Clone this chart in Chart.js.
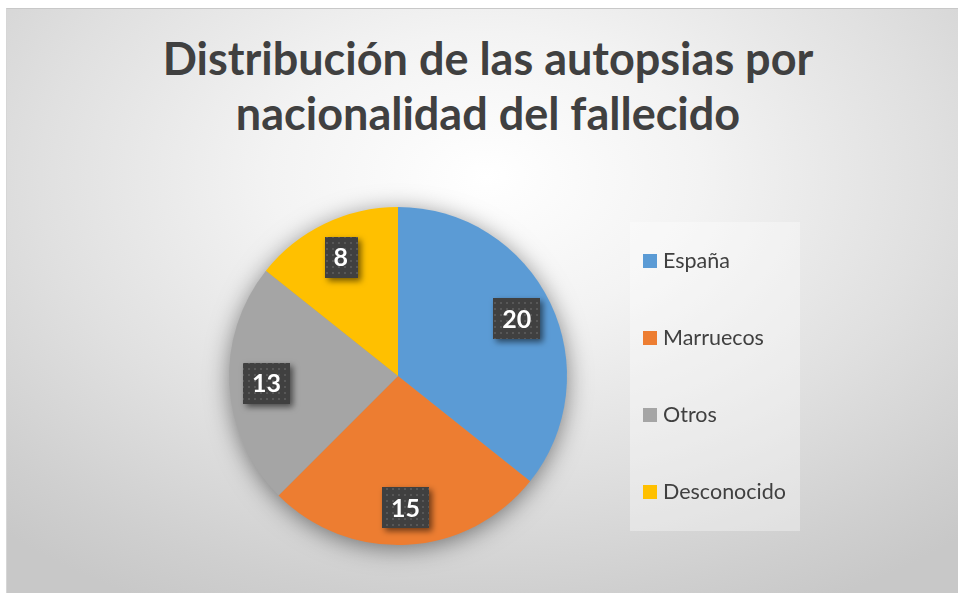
<!DOCTYPE html>
<html>
<head>
<meta charset="utf-8">
<script src="https://cdn.jsdelivr.net/npm/chart.js@4.4.1/dist/chart.umd.min.js"></script>
<style>
  html, body { margin: 0; padding: 0; background: #fff; }
  body { width: 958px; height: 593px; position: relative; overflow: hidden; }
  #frame {
    position: absolute; left: 6px; top: 8px; width: 958px; height: 600px;
    border-left: 1px solid #d6d6d6; border-top: 1px solid #c8c8c8;
    background: radial-gradient(ellipse 75% 80% at 50% 28%, #ffffff 0%, #f3f3f3 30%, #e0e0e0 62%, #cfcfcf 88%, #c8c8c8 100%);
  }
  #title {
    position: absolute; left: 88px; width: 800px; top: 31px;
    text-align: center; font-family: Lato, sans-serif; font-weight: 700;
    font-size: 45px; line-height: 55px; color: #404040;
  }
  #chart { position: absolute; left: 0; top: 0; }
</style>
</head>
<body>
<div id="frame"></div>
<div id="title">Distribución de las autopsias por<br>nacionalidad del fallecido</div>
<canvas id="chart" width="958" height="593"></canvas>
<script>
const categories = ['España', 'Marruecos', 'Otros', 'Desconocido'];
const values = [20, 15, 13, 8];
const colors = ['#5b9bd5', '#ed7d31', '#a5a5a5', '#ffc000'];

function dotPattern(ctx) {
  const c = document.createElement('canvas');
  c.width = 6;
  c.height = 6;
  const p = c.getContext('2d');
  p.fillStyle = '#404040';
  p.fillRect(0, 0, 6, 6);
  p.fillStyle = '#575757';
  p.fillRect(2, 2, 2, 2);
  return ctx.createPattern(c, 'repeat');
}

// soft shadow under the pie
const pieShadow = {
  id: 'pieShadow',
  beforeDatasetsDraw(chart) {
    const arc = chart.getDatasetMeta(0).data[0];
    if (!arc) return;
    const { ctx } = chart;
    ctx.save();
    ctx.shadowColor = 'rgba(0,0,0,0.5)';
    ctx.shadowBlur = 24;
    ctx.shadowOffsetX = 0;
    ctx.shadowOffsetY = 4;
    ctx.fillStyle = '#999';
    ctx.beginPath();
    ctx.arc(arc.x, arc.y, arc.outerRadius - 1, 0, Math.PI * 2);
    ctx.fill();
    ctx.restore();
  },
};

// dark value boxes inside the slices
const valueBoxes = {
  id: 'valueBoxes',
  afterDatasetsDraw(chart) {
    const { ctx } = chart;
    const meta = chart.getDatasetMeta(0);
    const pattern = dotPattern(ctx);
    ctx.save();
    ctx.font = 'bold 25px Lato, sans-serif';
    meta.data.forEach((arc, i) => {
      const mid = (arc.startAngle + arc.endAngle) / 2;
      const r = arc.outerRadius * 0.78;
      const cx = arc.x + Math.cos(mid) * r;
      const cy = arc.y + Math.sin(mid) * r;
      const text = String(chart.data.datasets[0].data[i]);
      const w = ctx.measureText(text).width + 18;
      const h = 41;
      ctx.save();
      ctx.shadowColor = 'rgba(0,0,0,0.55)';
      ctx.shadowBlur = 6;
      ctx.shadowOffsetX = 3;
      ctx.shadowOffsetY = 3;
      ctx.fillStyle = pattern;
      ctx.fillRect(Math.round(cx - w / 2), Math.round(cy - h / 2), Math.round(w), h);
      ctx.restore();
      ctx.fillStyle = '#ffffff';
      ctx.textAlign = 'center';
      ctx.textBaseline = 'middle';
      ctx.fillText(text, cx, cy + 1);
    });
    ctx.restore();
  },
};

// legend panel on the right
const sideLegend = {
  id: 'sideLegend',
  afterDraw(chart) {
    const { ctx } = chart;
    const ds = chart.data.datasets[0];
    ctx.save();
    ctx.fillStyle = 'rgba(255,255,255,0.35)';
    ctx.fillRect(630, 222, 170, 309);
    ctx.font = '21.5px Lato, sans-serif';
    ctx.textBaseline = 'middle';
    chart.data.labels.forEach((label, i) => {
      const y = 261 + i * 77;
      ctx.fillStyle = ds.backgroundColor[i];
      ctx.fillRect(643, y - 7, 14, 14);
      ctx.fillStyle = '#404040';
      ctx.fillText(label, 663, y);
    });
    ctx.restore();
  },
};

new Chart(document.getElementById('chart'), {
  type: 'pie',
  data: {
    labels: categories,
    datasets: [{
      data: values,
      backgroundColor: colors,
      borderWidth: 0,
    }],
  },
  options: {
    responsive: false,
    devicePixelRatio: 1,
    animation: false,
    layout: { padding: { left: 229, right: 391, top: 207, bottom: 48 } },
    plugins: {
      legend: { display: false },
      tooltip: { enabled: false },
      title: { display: false },
    },
  },
  plugins: [pieShadow, valueBoxes, sideLegend],
});
</script>
</body>
</html>
